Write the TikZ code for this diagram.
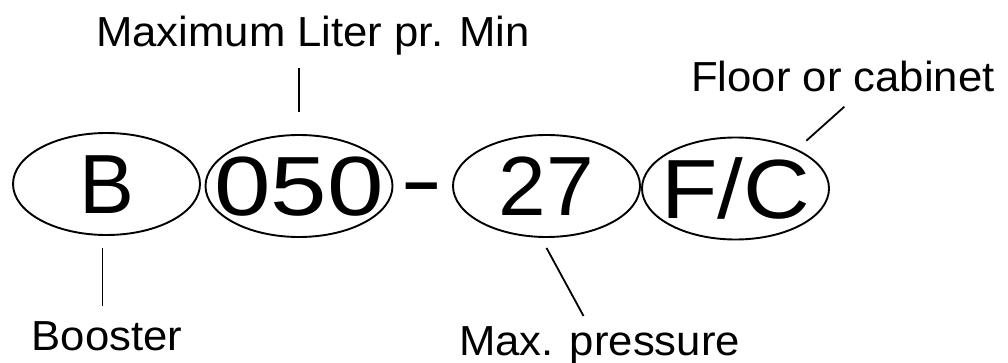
\documentclass[tikz,border=0pt]{standalone}
\usepackage{fontspec}
\usepackage{graphicx}
\usepackage{tikz}
\usetikzlibrary{shapes.geometric}
\newfontfamily\codefont{Liberation Sans}
\newfontfamily\labelfont[FakeStretch=1.04]{Liberation Sans}
\newcommand{\widecode}[2]{\makebox[0pt]{\scalebox{#1}[1]{#2}}}
\tikzset{pill/.style={
    ellipse, draw, line width=1.9pt, inner sep=0pt,
    minimum width=187pt, minimum height=102pt,
    font=\codefont\fontsize{84pt}{84pt}\selectfont,
    text height=60pt, text depth=0pt
  },
  dashmark/.style={
    inner sep=0pt, anchor=base,
    font=\codefont\fontsize{84pt}{84pt}\selectfont
  },
  caption/.style={
    inner sep=0pt, anchor=base,
    font=\labelfont\fontsize{42pt}{42pt}\selectfont
  },
  lead/.style={
    line width=1.8pt
  }
}

\begin{document}
\begin{tikzpicture}[x=1pt,y=-1pt]
      \useasboundingbox (0,0) rectangle (1008,363);
      \node[pill] (b) at (106.5,184) {\widecode{0.98}{B}};
      \node[pill] (flow) at (299,186) {\widecode{1.21}{050}};
      \node[dashmark] (dash) at (421.5,209) {\scalebox{1.52}[1]{-}};
      \node[pill] (pres) at (546.5,186) {\widecode{1.02}{27}};
      \node[pill] (mount) at (735.5,188.5) {\widecode{1.1}{F/C}};
      \node[caption] (flowlbl) at (313,47) {Maximum Liter pr. Min};
      \node[caption] (mountlbl) at (843,92) {Floor or cabinet};
      \node[caption] (blbl) at (107,350) {Booster};
      \node[caption] (preslbl) at (599.5,355) {Max. pressure};
      \draw[lead, shorten <=22pt] (flow.north) -- ++(0,-66);
      \draw[lead] ([xshift=-4pt, yshift=-12pt]b.south) -- ++(0,58);
      \draw[lead] ([yshift=-10pt]pres.south) -- ++(37,68);
      \draw[lead] ([shift={(4,-11)}]mount.north east) -- ++(38,-34);
    \end{tikzpicture}
\end{document}
